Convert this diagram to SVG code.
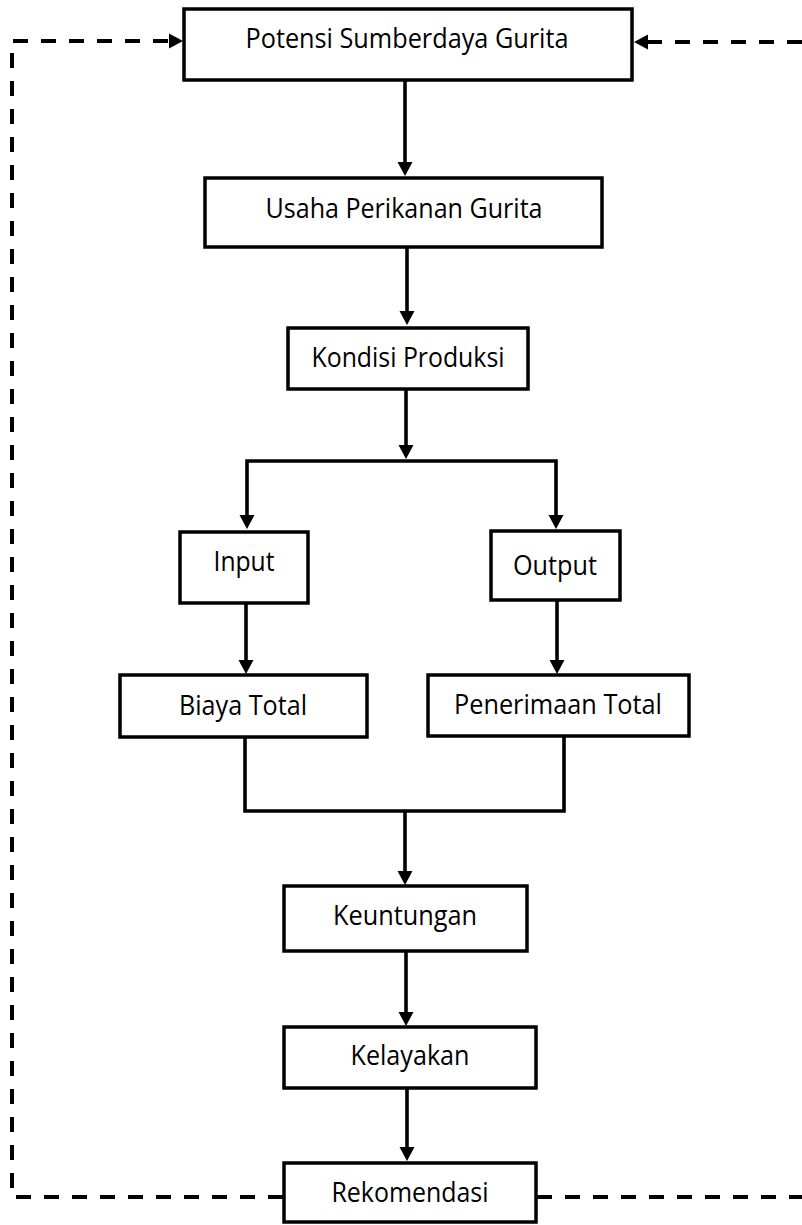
<svg xmlns="http://www.w3.org/2000/svg" width="802" height="1225" viewBox="0 0 802 1225">
<style>
.box{fill:#fff;stroke:#000;stroke-width:3.5}
.lbl{font-family:"Open Sans","Liberation Sans",sans-serif;font-size:26.5px;fill:#000;text-anchor:middle}
.c{fill:none;stroke:#000;stroke-width:3.6}
.d{fill:none;stroke:#000;stroke-width:4;stroke-dasharray:15 13}
</style>
<defs>
<marker id="ah" markerUnits="userSpaceOnUse" markerWidth="14" markerHeight="15" refX="0" refY="7.5" orient="auto" overflow="visible">
<path d="M0,0 L14,7.5 L0,15 Z" fill="#000"/>
</marker>
</defs>
<rect width="802" height="1225" fill="#fff"/>
<g id="connectors">
<path class="c" d="M405,81 V162" marker-end="url(#ah)"/>
<path class="c" d="M407,248 V311" marker-end="url(#ah)"/>
<path class="c" d="M406,390 V445" marker-end="url(#ah)"/>
<path class="c" d="M406,461 H247 V515" marker-end="url(#ah)"/>
<path class="c" d="M406,461 H556 V515" marker-end="url(#ah)"/>
<path class="c" d="M246,604 V660" marker-end="url(#ah)"/>
<path class="c" d="M557,601 V660" marker-end="url(#ah)"/>
<path class="c" d="M245,738 V811 H564 V737"/>
<path class="c" d="M405,811 V871" marker-end="url(#ah)"/>
<path class="c" d="M406,952 V1012" marker-end="url(#ah)"/>
<path class="c" d="M407,1089 V1147" marker-end="url(#ah)"/>
<path class="d" d="M283,1197 H12 V41 H169" marker-end="url(#ah)"/>
<path class="d" d="M537,1197 H820 V42 H648" marker-end="url(#ah)"/>
</g>
<g id="potensi"><rect class="box" x="184" y="9" width="448" height="71"/><text class="lbl" x="407" y="48" textLength="323" lengthAdjust="spacingAndGlyphs">Potensi Sumberdaya Gurita</text></g>
<g id="usaha"><rect class="box" x="205" y="178" width="397" height="69"/><text class="lbl" x="404" y="218" textLength="277" lengthAdjust="spacingAndGlyphs">Usaha Perikanan Gurita</text></g>
<g id="kondisi"><rect class="box" x="288" y="328" width="240" height="61"/><text class="lbl" x="408" y="367" textLength="193" lengthAdjust="spacingAndGlyphs">Kondisi Produksi</text></g>
<g id="input"><rect class="box" x="180" y="532" width="128" height="71"/><text class="lbl" x="244" y="571" textLength="61" lengthAdjust="spacingAndGlyphs">Input</text></g>
<g id="output"><rect class="box" x="491" y="531" width="129" height="69"/><text class="lbl" x="555" y="575" textLength="84" lengthAdjust="spacingAndGlyphs">Output</text></g>
<g id="biaya"><rect class="box" x="120" y="675" width="247" height="62"/><text class="lbl" x="243" y="715" textLength="128" lengthAdjust="spacingAndGlyphs">Biaya Total</text></g>
<g id="penerimaan"><rect class="box" x="428" y="675" width="261" height="61"/><text class="lbl" x="558" y="714" textLength="208" lengthAdjust="spacingAndGlyphs">Penerimaan Total</text></g>
<g id="keuntungan"><rect class="box" x="284" y="886" width="243" height="65"/><text class="lbl" x="405" y="925" textLength="144" lengthAdjust="spacingAndGlyphs">Keuntungan</text></g>
<g id="kelayakan"><rect class="box" x="284" y="1027" width="252" height="61"/><text class="lbl" x="410" y="1065" textLength="119" lengthAdjust="spacingAndGlyphs">Kelayakan</text></g>
<g id="rekomendasi"><rect class="box" x="284" y="1163" width="252" height="59"/><text class="lbl" x="410" y="1202" textLength="157" lengthAdjust="spacingAndGlyphs">Rekomendasi</text></g>
</svg>
